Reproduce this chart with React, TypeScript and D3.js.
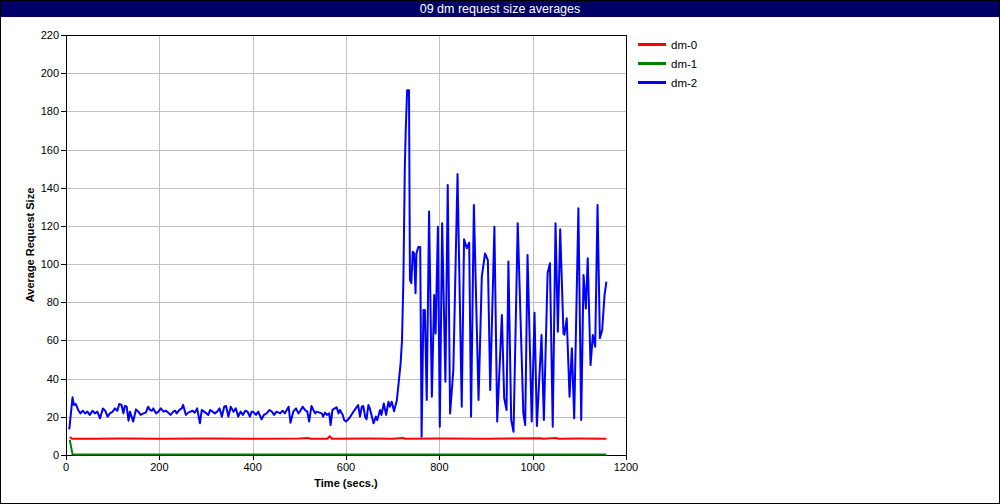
import * as d3 from "d3";

// series values: [time (secs), average request size]
const dm0: [number, number][] = [
    [8, 9.4], [13, 8.5], [60, 8.5], [120, 8.6], [200, 8.5], [300, 8.6], [400, 8.5], [500, 8.6],
    [518, 8.9], [524, 8.5], [560, 8.5], [565, 9.8], [570, 8.5], [650, 8.6], [700, 8.5],
    [722, 8.9], [727, 8.5], [800, 8.6], [900, 8.5], [1017, 8.8], [1022, 8.5], [1050, 8.9],
    [1055, 8.5], [1100, 8.6], [1158, 8.5],
];

const dm1: [number, number][] = [
    [8, 7.9], [14, 0.3], [60, 0.2], [600, 0.2], [1158, 0.2],
];

const dm2: [number, number][] = [
    [7, 13.4], [14, 30.2], [17, 26.2], [21, 26.7], [26, 23.6], [31, 21.8], [36, 23.2], [41, 21.8],
    [46, 22.7], [51, 21], [57, 23.2], [62, 21.8], [67, 22.7], [73, 19.2], [79, 24.4], [84, 23.2],
    [89, 20.1], [94, 21.8], [100, 22.7], [105, 24.4], [110, 23.2], [114, 26.7], [119, 26.2],
    [123, 21.8], [126, 25.7], [130, 25.3], [134, 18], [137, 22.7], [144, 17.5], [150, 23.9],
    [155, 22.7], [160, 21], [166, 21.8], [171, 22.2], [176, 25.3], [180, 23.6], [184, 23.2],
    [187, 24.4], [193, 21.8], [198, 22.7], [203, 24.4], [209, 22.7], [214, 23.2], [219, 22.2],
    [224, 21], [230, 22.7], [234, 23.2], [237, 21.8], [243, 23.6], [248, 24.4], [251, 26.2],
    [257, 21], [262, 22.2], [267, 22.7], [271, 23.2], [276, 22.2], [281, 24.4], [287, 16.6],
    [291, 23.6], [296, 22.7], [301, 21.8], [305, 21], [309, 23.6], [314, 22.7], [319, 21.8],
    [324, 22.7], [329, 24.4], [334, 20.1], [339, 25.3], [343, 25.7], [348, 20.1], [353, 25.3],
    [359, 22.7], [364, 24.4], [369, 20.1], [374, 22.7], [379, 21], [384, 23.2], [389, 22.7],
    [394, 20.1], [398, 22.7], [401, 22.7], [407, 21], [412, 22.7], [419, 18.7], [424, 21],
    [430, 21.8], [436, 23.6], [441, 22.7], [446, 21], [451, 22.7], [459, 21.8], [464, 23.2],
    [469, 21.8], [473, 23.6], [477, 25.3], [481, 16.9], [487, 22.7], [493, 24.4], [498, 21.8],
    [501, 22.7], [507, 25.3], [512, 23.6], [517, 22.7], [521, 17.5], [526, 25.7], [530, 23.6],
    [534, 21.8], [537, 22.7], [543, 22.2], [548, 21.8], [551, 20.1], [555, 22.2], [559, 21],
    [564, 21.8], [567, 15.7], [571, 23.6], [576, 24.4], [580, 25], [584, 21.8], [587, 23.6],
    [593, 21], [596, 18.3], [600, 17.5], [605, 18.7], [610, 20.4], [616, 22.7], [621, 24.4],
    [626, 26.2], [630, 20.1], [634, 25.3], [637, 25.7], [641, 20.1], [644, 18.7], [648, 26.2],
    [651, 24.5], [659, 16.6], [664, 20.1], [667, 18.3], [673, 23.6], [676, 21], [681, 27],
    [686, 21], [691, 27.9], [694, 25.3], [698, 27.9], [703, 22.9], [709, 28.8], [712, 35.8],
    [717, 48], [720, 60], [723, 92], [726, 150], [728, 170], [731, 191], [735, 191],
    [737, 91.7], [740, 90], [743, 106.5], [746, 105.6], [749, 84.7], [751, 105.6], [755, 109],
    [759, 109], [762, 9.6], [766, 76], [769, 76], [773, 28.8], [778, 127.5], [784, 30.5],
    [789, 83.8], [792, 63.7], [797, 119.6], [801, 14.8], [806, 121.4], [813, 38.4], [818, 141.4],
    [823, 21.8], [830, 44.5], [839, 147.2], [848, 25.3], [853, 113], [859, 108.3], [864, 111.2],
    [868, 20.1], [874, 131], [884, 28.8], [891, 93.4], [898, 105.6], [904, 102.1], [909, 34],
    [918, 119.6], [924, 17.5], [934, 73.3], [939, 29.7], [944, 23.6], [948, 101.3], [954, 18.3],
    [959, 12.2], [968, 121.4], [980, 21.8], [984, 15.7], [989, 104.8], [998, 17.5], [1004, 74.5],
    [1009, 15.2], [1019, 62.9], [1024, 18.3], [1032, 95.2], [1037, 100.4], [1043, 14.8],
    [1049, 121.4], [1054, 64.6], [1059, 118.2], [1066, 63.7], [1068, 63], [1073, 71.6],
    [1079, 30.5], [1084, 55.9], [1089, 19.2], [1098, 129.2], [1104, 18.3], [1109, 94.3],
    [1114, 76.8], [1118, 103], [1124, 47.1], [1129, 62.9], [1134, 56.7], [1139, 131],
    [1144, 61.1], [1149, 65.5], [1154, 83.8], [1158, 90.8],
];

const seriesNames = ["dm-0", "dm-1", "dm-2"];
const seriesColors = ["#ff0000", "#008000", "#0000ff"];
const xTicks = [0, 200, 400, 600, 800, 1000, 1200];
const yTicks = [0, 20, 40, 60, 80, 100, 120, 140, 160, 180, 200, 220];

const App: React.FC = () => {
    const width = 1000;
    const height = 504;
    const plotLeft = 66;
    const plotRight = 626;
    const plotTop = 35;
    const plotBottom = 455;
    const x = d3.scaleLinear([0, 1200], [plotLeft, plotRight]);
    const y = d3.scaleLinear([0, 220], [plotBottom, plotTop]);
    const line = d3.line<[number, number]>((d) => x(d[0]), (d) => y(d[1]));
    const series = [dm0, dm1, dm2];
    const px = (v: number) => Math.round(v) + 0.5;
    const font = "'Liberation Sans', Arial, sans-serif";

    return (
        <svg width={width} height={height} style={{ position: "absolute", left: 0, top: 0, display: "block" }}
            fontFamily={font}>
            <rect x={0.5} y={0.5} width={width - 1} height={height - 1} fill="white" stroke="black" />
            <rect x={1} y={1} width={width - 2} height={16} fill="#000066" />
            <text x={width / 2} y={13} fill="white" fontSize={12.5} textAnchor="middle">09 dm request size averages</text>

            {/* grid */}
            <g stroke="#c0c0c0" strokeWidth={1}>
                {xTicks.slice(1, -1).map((t) => (
                    <line key={t} x1={px(x(t))} x2={px(x(t))} y1={plotTop} y2={plotBottom} />
                ))}
                {yTicks.slice(1, -1).map((t) => (
                    <line key={t} x1={plotLeft} x2={plotRight} y1={px(y(t))} y2={px(y(t))} />
                ))}
            </g>

            {/* frame and axes */}
            <rect x={px(plotLeft)} y={px(plotTop)} width={plotRight - plotLeft} height={plotBottom - plotTop}
                fill="none" stroke="black" />
            <g stroke="black">
                {yTicks.map((t) => (
                    <line key={t} x1={plotLeft - 5} x2={plotLeft} y1={px(y(t))} y2={px(y(t))} />
                ))}
                {xTicks.map((t) => (
                    <line key={t} x1={px(x(t))} x2={px(x(t))} y1={plotBottom} y2={plotBottom + 5} />
                ))}
            </g>

            {/* series drawn over the frame, as in the reference */}
            {series.map((s, i) => (
                <path key={i} d={line(s) ?? undefined} fill="none" stroke={seriesColors[i]}
                    strokeWidth={2} strokeLinejoin="round" />
            ))}

            <g fontSize={11} fill="black">
                {yTicks.map((t) => (
                    <text key={t} x={plotLeft - 7} y={y(t) + 4} textAnchor="end">{t}</text>
                ))}
                {xTicks.map((t) => (
                    <text key={t} x={x(t)} y={plotBottom + 16} textAnchor="middle">{t}</text>
                ))}
            </g>
            <text x={(plotLeft + plotRight) / 2} y={487} fontSize={11} fontWeight="bold" textAnchor="middle">Time (secs.)</text>
            <text transform={`translate(34, ${(plotTop + plotBottom) / 2}) rotate(-90)`} fontSize={11}
                fontWeight="bold" textAnchor="middle">Average Request Size</text>

            {/* legend */}
            {seriesNames.map((name, i) => (
                <g key={name} transform={`translate(638, ${44 + i * 19})`}>
                    <line x1={0} x2={28} y1={0.5} y2={0.5} stroke={seriesColors[i]} strokeWidth={3} />
                    <text x={33} y={4.5} fontSize={11.5}>{name}</text>
                </g>
            ))}
        </svg>
    );
};

export default App;
